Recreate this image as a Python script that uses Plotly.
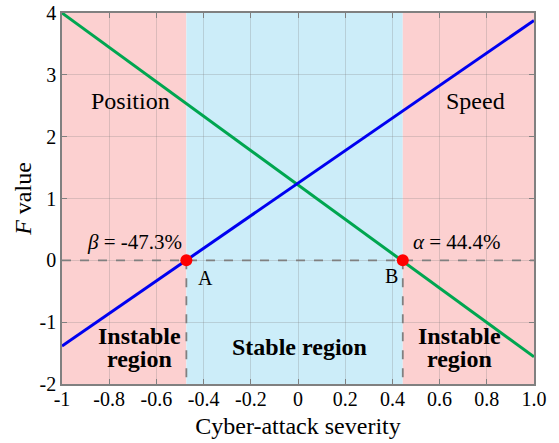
import plotly.graph_objects as go

# Attack severity range and critical points
x_range = [-1.0, 1.0]
beta = -0.473   # point A: speed F value crosses zero
alpha = 0.444   # point B: position F value crosses zero

# F value curves sampled at the ends of the severity range
speed_x = [-1.0, 1.0]
speed_y = [-1.385, 3.88]
position_x = [-1.0, 1.0]
position_y = [4.0, -1.56]

x_tickvals = [-1, -0.8, -0.6, -0.4, -0.2, 0, 0.2, 0.4, 0.6, 0.8, 1.0]
x_ticktext = ["-1", "-0.8", "-0.6", "-0.4", "-0.2", "0", "0.2", "0.4", "0.6", "0.8", "1.0"]
y_tickvals = [-2, -1, 0, 1, 2, 3, 4]
y_ticktext = ["-2", "-1", "0", "1", "2", "3", "4"]

FONT = "Liberation Serif, Times New Roman, serif"
PINK = "rgb(252,208,208)"
BLUE = "rgb(204,237,249)"
GREY = "rgb(128,128,128)"

fig = go.Figure()

# Shaded regions
shapes = [
    dict(type="rect", xref="x", yref="y", x0=-1, x1=beta, y0=-2, y1=4,
         fillcolor=PINK, line_width=0, layer="below"),
    dict(type="rect", xref="x", yref="y", x0=beta, x1=alpha, y0=-2, y1=4,
         fillcolor=BLUE, line_width=0, layer="below"),
    dict(type="rect", xref="x", yref="y", x0=alpha, x1=1, y0=-2, y1=4,
         fillcolor=PINK, line_width=0, layer="below"),
]

# Dashed reference lines
dash = dict(color=GREY, width=1.8, dash="dash")
fig.add_trace(go.Scatter(x=x_range, y=[0, 0], mode="lines", line=dash, hoverinfo="skip"))
fig.add_trace(go.Scatter(x=[beta, beta], y=[0, -2], mode="lines", line=dash, hoverinfo="skip"))
fig.add_trace(go.Scatter(x=[alpha, alpha], y=[0, -2], mode="lines", line=dash, hoverinfo="skip"))

# F value curves
fig.add_trace(go.Scatter(x=position_x, y=position_y, mode="lines",
                         line=dict(color="rgb(0,166,80)", width=3), name="Position"))
fig.add_trace(go.Scatter(x=speed_x, y=speed_y, mode="lines",
                         line=dict(color="rgb(0,0,240)", width=3), name="Speed"))

# Critical points
fig.add_trace(go.Scatter(x=[beta, alpha], y=[0, 0], mode="markers",
                         marker=dict(color="rgb(255,0,0)", size=12), hoverinfo="skip"))

ann_font = dict(family=FONT, size=24, color="black")
bold_font = dict(family=FONT, size=24, color="black")
label_font = dict(family=FONT, size=21, color="black")
point_font = dict(family=FONT, size=20, color="black")
annotations = [
    dict(x=-0.71, y=2.58, text="Position", showarrow=False, font=ann_font),
    dict(x=0.75, y=2.58, text="Speed", showarrow=False, font=ann_font),
    dict(x=-0.483, y=0.29, text="<i>β</i> = -47.3%", showarrow=False,
         font=label_font, xanchor="right"),
    dict(x=0.48, y=0.29, text="<i>α</i> = 44.4%", showarrow=False,
         font=label_font, xanchor="left"),
    dict(x=-0.39, y=-0.29, text="A", showarrow=False, font=point_font),
    dict(x=0.395, y=-0.26, text="B", showarrow=False, font=point_font),
    dict(x=-0.67, y=-1.23, text="<b>Instable</b>", showarrow=False, font=bold_font),
    dict(x=-0.67, y=-1.60, text="<b>region</b>", showarrow=False, font=bold_font),
    dict(x=0.008, y=-1.40, text="<b>Stable region</b>", showarrow=False, font=bold_font),
    dict(x=0.686, y=-1.23, text="<b>Instable</b>", showarrow=False, font=bold_font),
    dict(x=0.686, y=-1.60, text="<b>region</b>", showarrow=False, font=bold_font),
]

axis_common = dict(
    showgrid=True, gridcolor="rgba(120,120,120,0.25)", gridwidth=1,
    showline=True, linecolor=GREY, linewidth=1.5, mirror="ticks",
    ticks="inside", ticklen=5, tickcolor=GREY, zeroline=False,
    tickfont=dict(family=FONT, size=20, color="black"),
    automargin=False,
)

fig.update_layout(
    width=559, height=443,
    margin=dict(l=62, r=25, t=13, b=59),
    plot_bgcolor="white", paper_bgcolor="white",
    showlegend=False,
    shapes=shapes,
    annotations=annotations,
    xaxis=dict(range=x_range, tickvals=x_tickvals, ticktext=x_ticktext,
               ticklabelstandoff=-4,
               title=dict(text="Cyber-attack severity",
                          font=dict(family=FONT, size=24, color="black"), standoff=8),
               **axis_common),
    yaxis=dict(range=[-2, 4], tickvals=y_tickvals, ticktext=y_ticktext,
               title=dict(text="<i>F</i> value",
                          font=dict(family=FONT, size=24, color="black"), standoff=1),
               **axis_common),
)

fig.write_html("out.html")
